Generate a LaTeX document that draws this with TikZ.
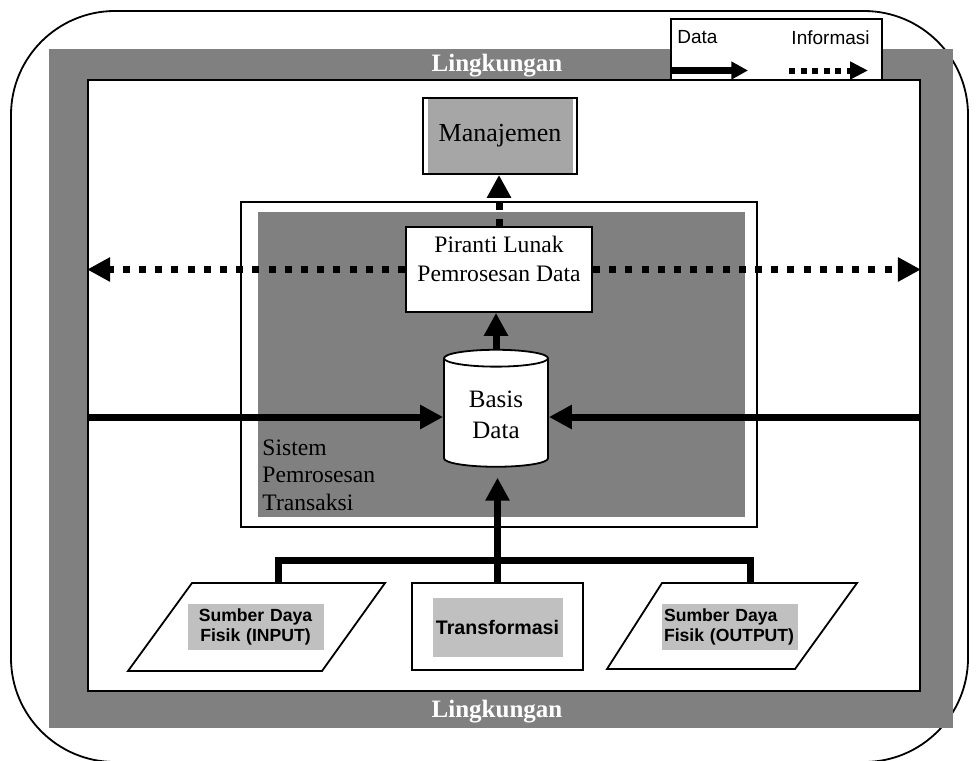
\documentclass[tikz,border=0pt]{standalone}
\usepackage{fontspec}
\setmainfont{Liberation Serif}
\setsansfont{Liberation Sans}
\usepackage{xcolor}
\usetikzlibrary{arrows.meta}
\usetikzlibrary{calc, math}
\usetikzlibrary{shapes.geometric}
\definecolor{framegray}{RGB}{128,128,128}
\definecolor{boxgray}{RGB}{166,166,166}
\definecolor{labelgray}{RGB}{192,192,192}

\tikzset{
  thinbox/.style={draw, line width=0.9pt, fill=white, inner sep=0pt},
  dataarrow/.style={line width=3.5pt, -{Triangle[length=11.5pt,width=11.5pt]}},
  infoarrow/.style={line width=3.5pt, dash pattern=on 3.5pt off 4.6pt, -{Triangle[length=11.5pt,width=11.5pt]}},
  dataline/.style={line width=3.5pt},
  graylabel/.style={fill=labelgray, inner sep=1pt, font=\sffamily\bfseries\fontsize{8.8pt}{10pt}\selectfont},
  envtext/.style={text=white, font=\bfseries\fontsize{12.5pt}{14pt}\selectfont},
}

\begin{document}
\begin{tikzpicture}[x=0.5pt, y=-0.5pt]
\tikzmath{
\busY=560;
\dataY=417;
\keyY=70.5;
\topY=583;
}
\useasboundingbox (0,0) rectangle (977,760);

%environment frame
\draw[line width=0.9pt, rounded corners=52pt] (11,11) rectangle (968,762);
\fill[framegray] (49,49) rectangle (953,728);
\node[thinbox, minimum width=416pt, minimum height=305.5pt] (sys) at (504,385.5) {};
\node[envtext] (envtop) at (497,66) {Lingkungan};
\node[envtext] (envbot) at (497,712) {Lingkungan};

%legend
\node[thinbox, minimum width=105.5pt, minimum height=30.5pt] (legend) at (776.5,49.5) {};
\node[anchor=west, inner sep=2pt, font=\sffamily\fontsize{9.5pt}{11pt}\selectfont] (keydata) at (673,37.5) {Data};
\node[anchor=east, inner sep=2pt, font=\sffamily\fontsize{9.5pt}{11pt}\selectfont] (keyinfo) at (874,37.5) {Informasi};
\coordinate (keyA) at (748,\keyY);
\coordinate (keyB) at (789,\keyY);
\coordinate (keyC) at (868,\keyY);
\draw[line width=3.5pt, -{Triangle[length=8.3pt,width=8.5pt]}] (legend.west |- keyA) -- (keyA);
\draw[line width=3pt, dash pattern=on 3pt off 2.8pt, -{Triangle[length=9pt,width=8.5pt]}] (keyB) -- (keyC);

%management
\fill[boxgray] (428,98) rectangle (573,174);
\node[draw, line width=0.9pt, minimum width=77pt, minimum height=38pt, font=\fontsize{13pt}{15pt}\selectfont] (mgr) at (500,136) {Manajemen};

%transaction processing system
\node[thinbox, minimum width=258pt, minimum height=162.5pt] (tps) at (499,364.5) {};
\fill[framegray] (258,212) rectangle (745,517);
\node[anchor=west, align=left, inner sep=2pt, font=\fontsize{11.8pt}{13.75pt}\selectfont] (tpstext) at (258,475) {Sistem\\Pemrosesan\\Transaksi};

\node[thinbox, minimum width=93pt, minimum height=42.5pt] (piranti) at (499,269.5) {};
\node[align=center, inner sep=0pt, font=\fontsize{11.8pt}{14.5pt}\selectfont] (pirantitext) at (499,259) {Piranti Lunak\\Pemrosesan Data};

\node[draw, line width=0.9pt, fill=white, cylinder, shape border rotate=90, aspect=0.25, minimum width=52pt, minimum height=58.5pt, align=center, font=\fontsize{12.5pt}{15.5pt}\selectfont] (cyl) at (496,415) {Basis\\Data};

%resources
\coordinate (inpA) at (128,671);
\coordinate (inpB) at (322,671);
\coordinate (inpC) at (385,\topY);
\coordinate (inpD) at (192,\topY);
\draw[line width=0.9pt, fill=white] (inpA) -- (inpB) -- (inpC) -- (inpD) -- cycle;
\node[graylabel, text width=66pt, align=center, minimum height=23pt] (inplbl) at (255.5,627) {Sumber Daya\\Fisik (INPUT)};

\node[thinbox, minimum width=85.5pt, minimum height=43.5pt] (transf) at (497.5,626.5) {};
\node[graylabel, minimum width=65pt, minimum height=29.5pt, font=\sffamily\bfseries\fontsize{9.8pt}{11pt}\selectfont] (transflbl) at (497.5,627) {Transformasi};

\coordinate (outpA) at (607,669);
\coordinate (outpB) at (795,669);
\coordinate (outpC) at (857,\topY);
\coordinate (outpD) at (662,\topY);
\draw[line width=0.9pt, fill=white] (outpA) -- (outpB) -- (outpC) -- (outpD) -- cycle;
\node[graylabel, text width=66pt, align=left, minimum height=23pt] (outplbl) at (730,627) {Sumber Daya\\Fisik (OUTPUT)};

%data flows
\coordinate (busL) at (278,\busY);
\coordinate (busR) at (750,\busY);
\coordinate (dataL) at (0,\dataY);
\draw[dataline] (inpD -| busL) -- (busL) -- (busR) -- (outpD -| busR);
\draw[dataarrow, shorten >=5pt] (transf.north) -- (transf.north |- cyl.south);
\draw[dataarrow] (sys.west |- dataL) -- (cyl.west |- dataL);
\draw[dataarrow] (sys.east |- dataL) -- (cyl.east |- dataL);
\draw[dataarrow] (cyl.north) -- (cyl.north |- piranti.south);

%information flows
\draw[infoarrow] (piranti.north) -- (piranti.north |- mgr.south);
\draw[infoarrow] (piranti.west) -- (piranti.west -| sys.west);
\draw[infoarrow] (piranti.east) -- (piranti.east -| sys.east);
\end{tikzpicture}
\end{document}
